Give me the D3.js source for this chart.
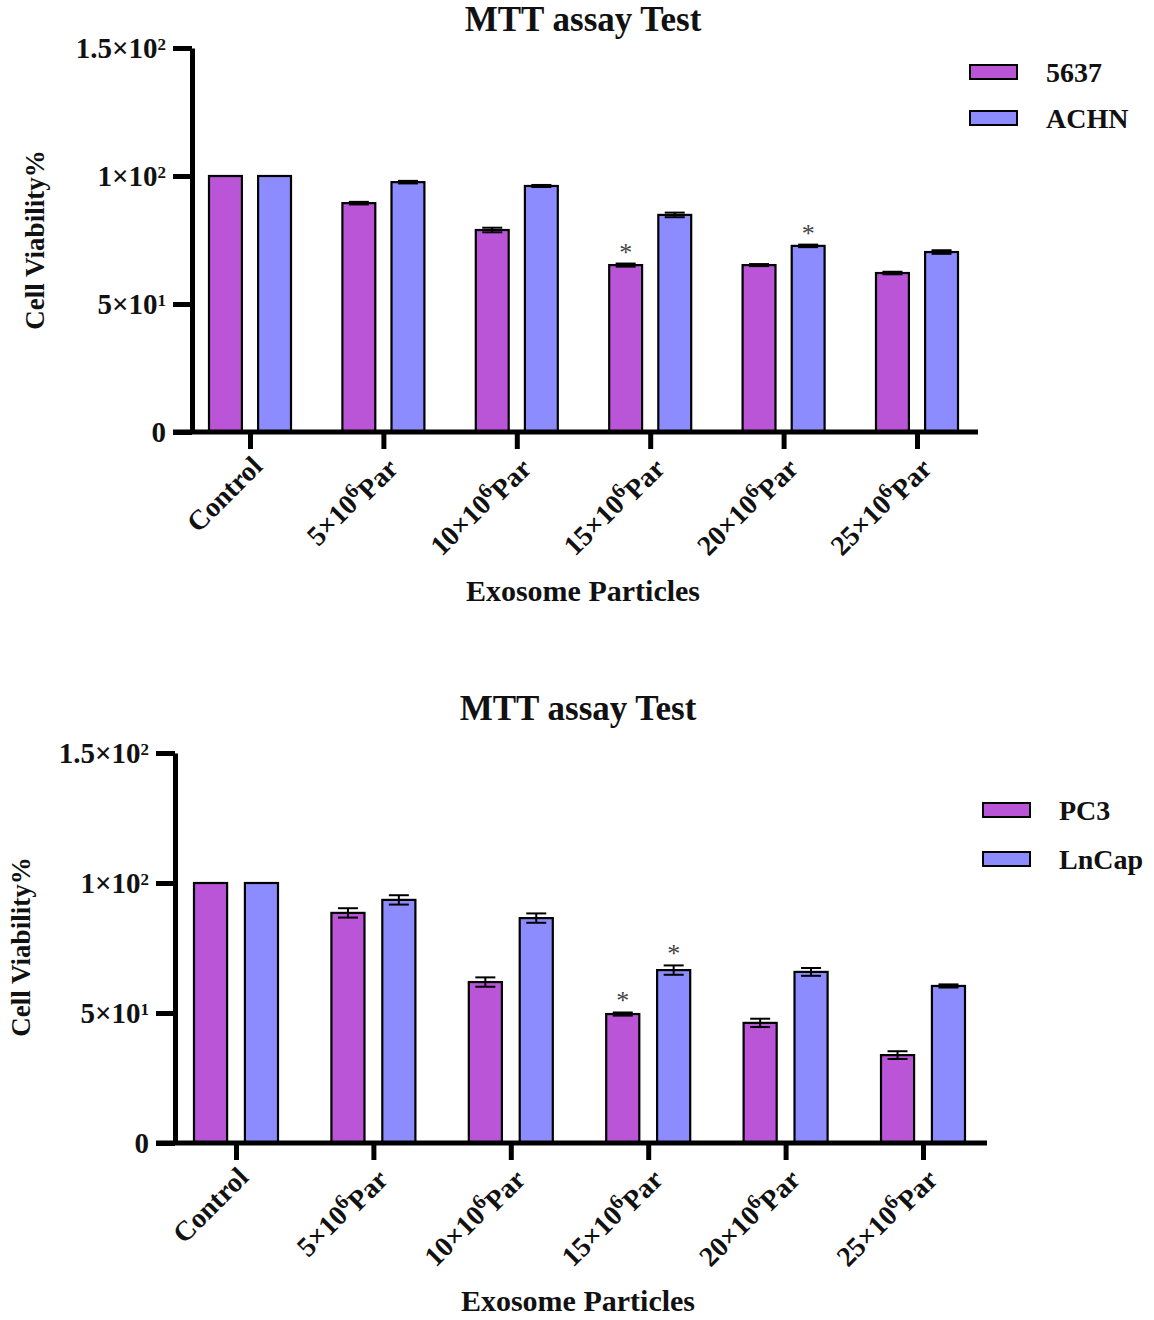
<!DOCTYPE html>
<html lang="en">
<head>
<meta charset="UTF-8">
<title>MTT assay Test</title>
<script src="https://d3js.org/d3.v7.min.js"></script>
<style>
    body { margin: 0; background: #fff; }
    svg text { font-family: "Liberation Serif", "Times New Roman", serif; font-weight: bold; fill: #111; }
</style>
</head>
<body>
<svg id="chart" width="1154" height="1320"></svg>
<script>
// categories / tick labels ("^" marks a superscript digit)
const categories = ["Control", "5×10^6Par", "10×10^6Par", "15×10^6Par", "20×10^6Par", "25×10^6Par"];
const yTickValues = [0, 50, 100, 150];
const yTickLabels = ["0", "5×10^1", "1×10^2", "1.5×10^2"];

// top panel
const topSeries = ["5637", "ACHN"];
const top5637 = [100, 89.4, 78.9, 65.2, 65.2, 62.1];
const top5637Err = [0, 0.5, 0.9, 0.6, 0.4, 0.5];
const top5637Star = [0, 0, 0, 1, 0, 0];
const topACHN = [100, 97.6, 96.1, 84.8, 72.7, 70.3];
const topACHNErr = [0, 0.5, 0.4, 0.9, 0.5, 0.7];
const topACHNStar = [0, 0, 0, 0, 1, 0];

// bottom panel
const bottomSeries = ["PC3", "LnCap"];
const bottomPC3 = [100, 88.5, 61.9, 49.6, 46.2, 33.8];
const bottomPC3Err = [0, 1.8, 1.8, 0.6, 1.6, 1.5];
const bottomPC3Star = [0, 0, 0, 1, 0, 0];
const bottomLnCap = [100, 93.5, 86.5, 66.5, 65.8, 60.4];
const bottomLnCapErr = [0, 1.8, 1.8, 1.8, 1.5, 0.6];
const bottomLnCapStar = [0, 0, 0, 1, 0, 0];

const colors = ["#B955D6", "#8C8CFF"];

const svg = d3.select("#chart");
svg.append("rect").attr("width", 1154).attr("height", 1320).attr("fill", "#fff");

// write "a^bc" as text with a superscript tspan
function supText(sel, label, supSize) {
    const m = label.match(/^(.*)\^(\d)(.*)$/);
    if (!m) { sel.text(label); return; }
    sel.append("tspan").text(m[1]);
    sel.append("tspan").attr("dy", "-0.45em").attr("font-size", supSize).text(m[2]);
    if (m[3]) sel.append("tspan").attr("dy", "0.45em").text(m[3]);
}

function drawPanel(o) {
    const g = svg.append("g");
    const y = d3.scaleLinear().domain([0, 150]).range([o.y0, o.y150]);
    const x = d3.scalePoint().domain(categories).range([o.xFirst, o.xLast]);
    const sub = d3.scaleBand().domain(o.series).range([-o.half, o.half]).paddingInner(o.pad);

    const rows = [];
    o.series.forEach((s, si) => {
        categories.forEach((c, ci) => {
            rows.push({ s, si, c, v: o.values[si][ci], e: o.errors[si][ci], star: o.stars[si][ci] });
        });
    });

    // bars
    g.selectAll("rect.bar").data(rows).enter().append("rect")
        .attr("class", "bar")
        .attr("x", d => x(d.c) + sub(d.s))
        .attr("y", d => y(d.v))
        .attr("width", sub.bandwidth())
        .attr("height", d => y(0) - y(d.v))
        .attr("fill", d => colors[d.si])
        .attr("stroke", "#000")
        .attr("stroke-width", 2.2);

    // error bars
    const eb = g.selectAll("g.err").data(rows.filter(d => d.e > 0)).enter().append("g")
        .attr("class", "err")
        .attr("transform", d => `translate(${x(d.c) + sub(d.s) + sub.bandwidth() / 2},0)`);
    eb.append("line").attr("y1", d => y(d.v - d.e)).attr("y2", d => y(d.v + d.e))
        .attr("stroke", "#000").attr("stroke-width", 2);
    [1, -1].forEach(k => {
        eb.append("line").attr("x1", -10).attr("x2", 10)
            .attr("y1", d => y(d.v + k * d.e)).attr("y2", d => y(d.v + k * d.e))
            .attr("stroke", "#000").attr("stroke-width", 2);
    });

    // significance stars
    g.selectAll("text.star").data(rows.filter(d => d.star)).enter().append("text")
        .attr("class", "star")
        .attr("x", d => x(d.c) + sub(d.s) + sub.bandwidth() / 2)
        .attr("y", d => y(d.v + d.e) - 3)
        .attr("text-anchor", "middle")
        .attr("font-size", 26)
        .style("font-weight", "normal")
        .style("fill", "#444")
        .text("*");

    // y axis
    const yAxis = g.append("g")
        .attr("transform", `translate(${o.yAxisX},0)`)
        .call(d3.axisLeft(y).tickValues(yTickValues).tickSize(19).tickSizeOuter(0).tickFormat(""));
    yAxis.selectAll("path, line").attr("stroke", "#000").attr("stroke-width", 5);
    yAxis.selectAll(".tick text").remove();
    yTickValues.forEach((v, i) => {
        const t = g.append("text")
            .attr("x", o.yAxisX - 26).attr("y", y(v) + 10)
            .attr("text-anchor", "end").attr("font-size", 29);
        supText(t, yTickLabels[i], 17);
    });

    // x axis
    const xAxis = g.append("g")
        .attr("transform", `translate(0,${o.y0})`)
        .call(d3.axisBottom(x).tickSize(17).tickFormat(""));
    xAxis.select(".domain").remove();
    xAxis.selectAll("line").attr("stroke", "#000").attr("stroke-width", 5);
    g.append("line")
        .attr("x1", o.yAxisX - 19).attr("x2", o.xLast + o.xRightPad)
        .attr("y1", o.y0).attr("y2", o.y0)
        .attr("stroke", "#000").attr("stroke-width", 5);

    categories.forEach(c => {
        const t = g.append("text")
            .attr("transform", `translate(${x(c) + 14},${o.y0 + 36}) rotate(-45)`)
            .attr("text-anchor", "end").attr("font-size", 28);
        supText(t, c, 21);
    });

    // titles
    g.append("text").attr("x", o.titleX).attr("y", o.titleY)
        .attr("text-anchor", "middle").attr("font-size", 35).text("MTT assay Test");
    g.append("text").attr("x", o.titleX).attr("y", o.xTitleY)
        .attr("text-anchor", "middle").attr("font-size", 30).text("Exosome Particles");
    g.append("text")
        .attr("transform", `translate(${o.yTitleX},${o.yTitleY}) rotate(-90)`)
        .attr("text-anchor", "middle").attr("font-size", 27).text("Cell Viability%");

    // legend
    o.series.forEach((s, i) => {
        g.append("rect")
            .attr("x", o.legX).attr("y", o.legY + i * o.legStep)
            .attr("width", 47).attr("height", 14)
            .attr("fill", colors[i]).attr("stroke", "#000").attr("stroke-width", 2);
        g.append("text")
            .attr("x", o.legX + 76).attr("y", o.legY + i * o.legStep + 17)
            .attr("font-size", 28).text(s);
    });
}

drawPanel({
    series: topSeries,
    values: [top5637, topACHN], errors: [top5637Err, topACHNErr], stars: [top5637Star, topACHNStar],
    y0: 432, y150: 48, xFirst: 250, xLast: 917, half: 41, pad: 0.33,
    yAxisX: 192, xRightPad: 61,
    titleX: 583, titleY: 31, xTitleY: 601, yTitleX: 44, yTitleY: 240,
    legX: 970, legY: 65, legStep: 46
});

drawPanel({
    series: bottomSeries,
    values: [bottomPC3, bottomLnCap], errors: [bottomPC3Err, bottomLnCapErr], stars: [bottomPC3Star, bottomLnCapStar],
    y0: 1143, y150: 753, xFirst: 236, xLast: 923, half: 42, pad: 0.35,
    yAxisX: 175, xRightPad: 64,
    titleX: 578, titleY: 720, xTitleY: 1311, yTitleX: 30, yTitleY: 947,
    legX: 983, legY: 803, legStep: 49
});
</script>
</body>
</html>
